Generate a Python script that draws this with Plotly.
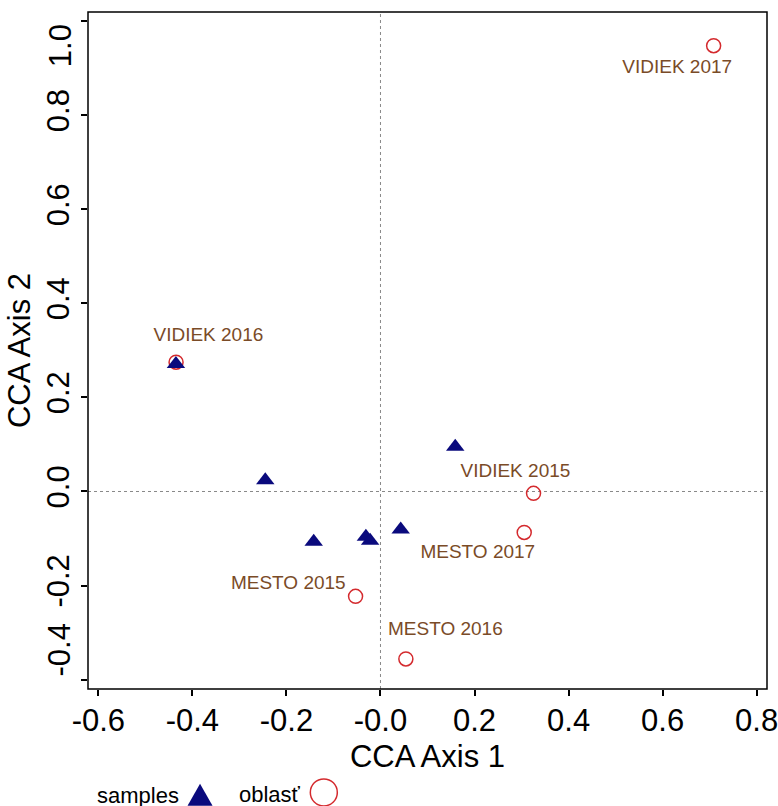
import plotly.graph_objects as go

# ---- data ----
sample_x = [-0.435, -0.245, -0.142, -0.031, -0.022, 0.043, 0.159]
sample_y = [0.271, 0.024, -0.107, -0.096, -0.105, -0.081, 0.095]

site_names = ["VIDIEK 2017", "VIDIEK 2016", "VIDIEK 2015", "MESTO 2017", "MESTO 2016", "MESTO 2015"]
site_x = [0.7085, -0.4347, 0.3255, 0.3057, 0.054, -0.053]
site_y = [0.948, 0.275, -0.004, -0.087, -0.356, -0.223]
label_x = [0.631, -0.366, 0.287, 0.207, 0.138, -0.196]
label_y = [0.900, 0.330, 0.040, -0.131, -0.294, -0.198]

x_ticks = [-0.6, -0.4, -0.2, 0.0, 0.2, 0.4, 0.6, 0.8]
x_ticktext = ["-0.6", "-0.4", "-0.2", "-0.0", "0.2", "0.4", "0.6", "0.8"]
y_ticks = [-0.4, -0.2, 0.0, 0.2, 0.4, 0.6, 0.8, 1.0]
y_ticktext = ["-0.4", "-0.2", "0.0", "0.2", "0.4", "0.6", "0.8", "1.0"]

x_range = [-0.622, 0.822]
y_range = [-0.42, 1.0196]

FONT = "Arial, Liberation Sans, sans-serif"
NAVY = "#0a0a7d"
RED = "#d42a2e"
BROWN = "#7a4b27"
TICK_SIZE = 31

fig = go.Figure()

fig.add_trace(go.Scatter(
    x=site_x, y=site_y, mode="markers", name="oblasť",
    marker=dict(symbol="circle-open", size=14, color=RED, line=dict(width=1.5, color=RED)),
    showlegend=False, hoverinfo="skip"))

fig.add_trace(go.Scatter(
    x=sample_x, y=sample_y, mode="markers", name="samples",
    marker=dict(symbol="triangle-up", size=16, color=NAVY, line=dict(width=0)),
    showlegend=False, hoverinfo="skip"))

fig.add_trace(go.Scatter(
    x=label_x, y=label_y, mode="text", text=site_names,
    textfont=dict(family=FONT, size=19, color=BROWN),
    textposition="middle center", showlegend=False, hoverinfo="skip"))

# reference lines at zero
fig.add_shape(type="line", xref="x", yref="paper", x0=0, x1=0, y0=0, y1=1,
              line=dict(color="#888888", width=1, dash="dot"), layer="below")
fig.add_shape(type="line", xref="paper", yref="y", x0=0, x1=1, y0=0, y1=0,
              line=dict(color="#888888", width=1, dash="dot"), layer="below")

# plot box
fig.add_shape(type="rect", xref="paper", yref="paper", x0=0, x1=1, y0=0, y1=1,
              line=dict(color="black", width=1.5), layer="above")

# y tick labels: end labels are nudged inward (as in the original figure)
y_axis_text = list(y_ticktext)
y_axis_text[0] = ""
y_axis_text[-1] = ""
fig.add_annotation(x=-0.0413, y=y_ticks[-1], xref="paper", yref="y", text=y_ticktext[-1],
                   textangle=-90, showarrow=False, xanchor="center", yanchor="middle", yshift=-24,
                   font=dict(family=FONT, size=TICK_SIZE, color="black"))
fig.add_annotation(x=-0.0413, y=y_ticks[0], xref="paper", yref="y", text=y_ticktext[0],
                   textangle=-90, showarrow=False, xanchor="center", yanchor="middle", yshift=30,
                   font=dict(family=FONT, size=TICK_SIZE, color="black"))

# legend-like key at bottom
fig.add_annotation(x=0.1370, y=-0.1572, xref="paper", yref="paper", text="samples",
                   showarrow=False, xanchor="right", yanchor="middle",
                   font=dict(family=FONT, size=22, color="black"))
fig.add_annotation(x=0.3168, y=-0.1558, xref="paper", yref="paper", text="oblasť",
                   showarrow=False, xanchor="right", yanchor="middle",
                   font=dict(family=FONT, size=22, color="black"))
fig.add_shape(type="path", xref="paper", yref="paper", xsizemode="pixel", ysizemode="pixel",
              xanchor=0.165, yanchor=-0.1723, path="M -12.5,0 L 12.5,0 L 0,22 Z",
              fillcolor=NAVY, line=dict(width=0))
fig.add_shape(type="circle", xref="paper", yref="paper", xsizemode="pixel", ysizemode="pixel",
              xanchor=0.3473, yanchor=-0.1527, x0=-13.5, x1=13.5, y0=-13.5, y1=13.5,
              line=dict(color=RED, width=1.5))

axis_common = dict(showgrid=False, zeroline=False, showline=False, ticks="outside",
                   ticklen=6, tickwidth=1.5, tickcolor="black", ticklabeloverflow="allow",
                   tickfont=dict(family=FONT, size=TICK_SIZE, color="black"))

fig.update_xaxes(range=x_range, tickvals=x_ticks, ticktext=x_ticktext, ticklabelstandoff=-2,
                 title=dict(text="CCA Axis 1", font=dict(family=FONT, size=31, color="black"), standoff=8),
                 **axis_common)
fig.update_yaxes(range=y_range, tickvals=y_ticks, ticktext=y_axis_text, tickangle=-90,
                 title=dict(text="CCA Axis 2", font=dict(family=FONT, size=31, color="black"), standoff=0),
                 **axis_common)

fig.update_layout(width=778, height=806, margin=dict(l=88, r=11.3, t=12, b=116.7, autoexpand=False),
                  plot_bgcolor="white", paper_bgcolor="white", font=dict(family=FONT))

fig.write_html("out.html", config={"displayModeBar": False},
               post_script="document.body.style.margin='0';document.body.style.overflow='hidden';")
